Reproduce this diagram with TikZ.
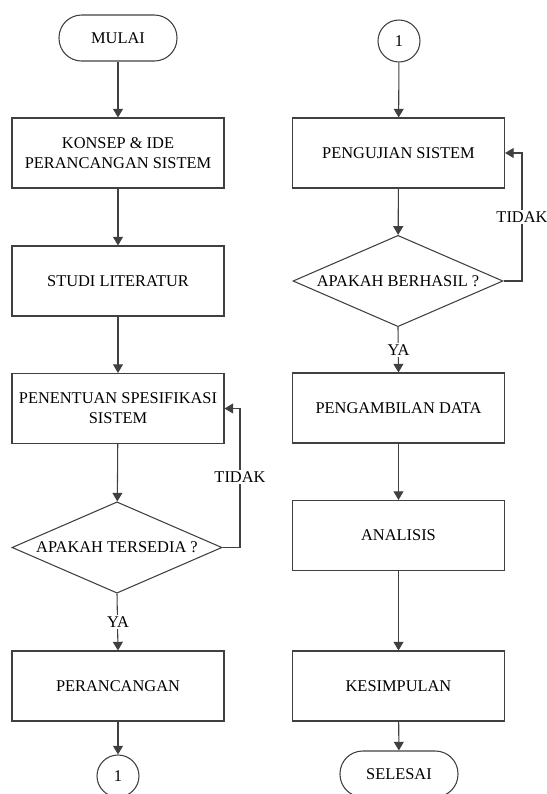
\documentclass[tikz,border=0pt]{standalone}
\usepackage{fontspec}
\setmainfont{Liberation Serif}
\usetikzlibrary{shapes.geometric,arrows.meta}
\begin{document}
\begin{tikzpicture}[x=0.75pt,y=-0.75pt,
  font=\fontsize{12.3}{14.8}\selectfont,
  line/.style={draw=black!75,line width=0.8pt},
  arr/.style={line,-{Triangle[width=7.5pt,length=6.5pt]}},
  procbox/.style={line,rectangle,minimum width=159pt,minimum height=52.5pt,align=center,inner sep=2pt},
  termbox/.style={line,rectangle,rounded corners=17pt,minimum width=88.5pt,minimum height=34.5pt},
  conn/.style={line,circle,minimum size=31.5pt,inner sep=0pt},
  decbox/.style={line,diamond,shape aspect=2.3,minimum width=157.5pt,minimum height=68.5pt,inner sep=0pt},
  lbl/.style={fill=white,inner sep=1.5pt}]
\useasboundingbox (0,0) rectangle (547,794);
\clip (0,0) rectangle (547,794);
% left column
\node[termbox] (start) at (118,38) {MULAI};
\node[procbox] (konsep) at (118,153) {KONSEP \& IDE\\PERANCANGAN SISTEM};
\node[procbox] (studi) at (118,281) {STUDI LITERATUR};
\node[procbox] (spek) at (118,408.5) {PENENTUAN SPESIFIKASI\\SISTEM};
\node[decbox] (sedia) at (117,547.5) {APAKAH TERSEDIA ?};
\node[procbox] (rancang) at (118,686) {PERANCANGAN};
\node[conn] (c1a) at (118,776) {1};
\coordinate (fbl) at (240,547.5);
\draw[arr] (start) -- (konsep);
\draw[arr] (konsep) -- (studi);
\draw[arr] (studi) -- (spek);
\draw[arr] (spek) -- (sedia);
\draw[arr] (sedia.south) -- (rancang.north);
\draw[arr] (sedia.east) -- (fbl) |- (spek.east);
\draw[arr] (rancang) -- (c1a);
\node[lbl] (tidak1) at (240,477) {TIDAK};
\node[lbl] (ya1) at (118,622) {YA};
% right column
\node[conn] (c1b) at (399,41) {1};
\node[procbox] (uji) at (398.5,153) {PENGUJIAN SISTEM};
\node[decbox] (hasil) at (398,281) {APAKAH BERHASIL ?};
\node[procbox] (data) at (398.5,408) {PENGAMBILAN DATA};
\node[procbox] (analisis) at (398.5,535.5) {ANALISIS};
\node[procbox] (simpul) at (398.5,686) {KESIMPULAN};
\node[termbox] (selesai) at (399,774) {SELESAI};
\coordinate (fbr) at (522,281);
\draw[arr] (c1b) -- (uji);
\draw[arr] (uji) -- (hasil);
\draw[arr] (hasil.south) -- (data.north);
\draw[arr] (hasil.east) -- (fbr) |- (uji.east);
\draw[arr] (data) -- (analisis);
\draw[arr] (analisis) -- (simpul);
\draw[arr] (simpul) -- (selesai);
\node[lbl] (tidak2) at (522,217) {TIDAK};
\node[lbl] (ya2) at (398.5,350) {YA};
\end{tikzpicture}
\end{document}
